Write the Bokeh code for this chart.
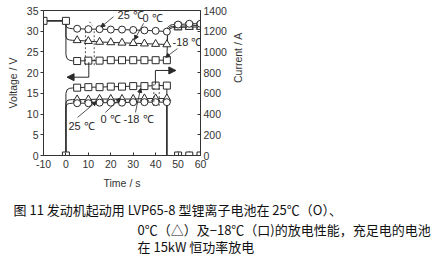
import math
from bokeh.plotting import figure
from bokeh.models import (Range1d, LinearAxis, FixedTicker, Label, Arrow,
                          NormalHead, Title)
from bokeh.embed import file_html
from bokeh.resources import INLINE

# ---- data -------------------------------------------------------------
# idle period before cranking
t_pre = [-10, 0]
v_pre = [32.5, 32.5]
i_pre_t = [0]
i_pre = [0]

# sampled points during the 15 kW discharge and after it
t_run = [5, 10, 15, 20, 25, 30, 35, 40, 45]
t_rest = [50, 55, 60]

# voltage (V) at 25 °C, 0 °C, -18 °C
v_25 = [30.6, 30.5, 30.5, 30.4, 30.4, 30.3, 30.2, 30.1, 29.9]
v_0 = [27.8, 27.6, 27.4, 27.3, 27.2, 27.1, 27.0, 26.9, 26.8]
v_m18 = [22.8, 22.9, 22.9, 23.0, 23.0, 23.0, 23.0, 23.0, 23.0]
vr_25 = [31.6, 31.8, 31.8]
vr_0 = [30.9, 31.0, 31.0]
vr_m18 = [31.2, 31.3, 31.4]

# voltage knee right after cranking starts, and recovery knee after stop
knee_t = [0, 0, 0.5, 1.5, 3]
vk_25 = [32.5, 31.4, 30.9, 30.7, 30.6]
vk_0 = [32.5, 28.8, 28.1, 27.9, 27.8]
vk_m18 = [32.5, 24.3, 23.4, 23.0, 22.85]
rec_t = [45, 45.4, 46.3, 47.5]
vrk_25 = [29.9, 30.9, 31.4, 31.6]
vrk_0 = [26.8, 29.8, 30.6, 30.85]
vrk_m18 = [23.0, 30.2, 31.0, 31.15]

# current (A)
i_25 = [505, 505, 510, 510, 510, 515, 515, 515, 515]
i_0 = [540, 540, 545, 545, 545, 545, 550, 550, 550]
i_m18 = [655, 660, 660, 665, 665, 670, 670, 675, 675]
i_rest = [0, 0, 0]
ik_25 = [0, 470, 495, 502, 505]
ik_0 = [0, 505, 530, 537, 540]
ik_m18 = [0, 600, 635, 648, 652]

x_ticks = [-10, 0, 10, 20, 30, 40, 50, 60]
v_ticks = [0, 5, 10, 15, 20, 25, 30, 35]
i_ticks = [0, 200, 400, 600, 800, 1000, 1200, 1400]

caption_head = "图 11 发动机起动用 LVP65-8 型锂离子电池在 25℃（O）、"
caption_rest = ["0℃（△）及−18℃（口)的放电性能，充足电的电池",
                "在 15kW 恒功率放电"]

INK = "#2a2a2a"
AXIS = "#333333"
FONT = "Liberation Sans"
CJK = "Noto Sans CJK SC"

p = figure(width=439, height=257, output_backend="svg", toolbar_location=None,
           x_range=Range1d(-10, 60), y_range=Range1d(0, 35),
           min_border_left=43, min_border_right=239,
           min_border_top=10, min_border_bottom=102)
p.extra_y_ranges = {"current": Range1d(0, 1400)}
p.grid.visible = False
p.outline_line_color = AXIS
p.outline_line_width = 1
p.background_fill_color = "white"
p.border_fill_color = "white"

# axes
p.xaxis.ticker = FixedTicker(ticks=x_ticks)
p.xaxis.major_label_overrides = {-10: "-10"}
p.xaxis.major_tick_in = 3
p.xaxis.major_tick_out = 0
p.xaxis.major_label_standoff = 4
p.xaxis.axis_label = "Time / s"
p.xaxis.axis_label_standoff = 6
p.yaxis.ticker = FixedTicker(ticks=v_ticks)
p.yaxis.major_tick_in = 0
p.yaxis.major_tick_out = 3
p.yaxis.major_label_standoff = 2
p.yaxis.axis_label = "Voltage / V"
p.yaxis.axis_label_standoff = 5

ax_r = LinearAxis(y_range_name="current", ticker=FixedTicker(ticks=i_ticks))
ax_r.major_tick_in = 3
ax_r.major_tick_out = 0
ax_r.major_label_standoff = 3
ax_r.axis_label = "Current / A"
ax_r.axis_label_standoff = 8
ax_r.axis_label_orientation = math.pi / 2
p.add_layout(ax_r, "right")

for ax in (p.xaxis[0], p.yaxis[0], ax_r):
    ax.axis_line_color = AXIS
    ax.major_tick_line_color = AXIS
    ax.minor_tick_line_color = None
    ax.major_label_text_font = FONT
    ax.major_label_text_font_size = "10.5px"
    ax.major_label_text_color = "#333333"
    ax.axis_label_text_font = FONT
    ax.axis_label_text_font_size = "10.5px"
    ax.axis_label_text_font_style = "normal"
    ax.axis_label_text_color = "#333333"

# ---- voltage curves ---------------------------------------------------
curves_v = [
    (vk_25, v_25, vrk_25, vr_25),
    (vk_0, v_0, vrk_0, vr_0),
    (vk_m18, v_m18, vrk_m18, vr_m18),
]
for vk, v, vrk, vr in curves_v:
    xs = t_pre + knee_t + t_run + rec_t[1:] + t_rest
    ys = v_pre + vk + v + vrk[1:] + vr
    p.line(xs, ys, line_color=INK, line_width=1)

# ---- current curves ---------------------------------------------------
curves_i = [(ik_25, i_25), (ik_0, i_0), (ik_m18, i_m18)]
for ik, cur in curves_i:
    xs = [-10] + knee_t + t_run + [t_run[-1]] + t_rest
    ys = [0] + ik + cur + [0] + i_rest
    p.line(xs, ys, line_color=INK, line_width=1, y_range_name="current")

# ---- markers ----------------------------------------------------------
mk = dict(fill_color="white", line_color=INK, line_width=1)
p.scatter(t_pre, v_pre, marker="square", size=7, **mk)
p.scatter(i_pre_t, i_pre, marker="square", size=7, y_range_name="current", **mk)

p.scatter(t_run, v_m18, marker="square", size=7, **mk)
p.scatter(t_rest, vr_m18, marker="square", size=7, **mk)
p.scatter(t_run, v_0, marker="triangle", size=8, **mk)
p.scatter(t_rest, vr_0, marker="triangle", size=8, **mk)
p.scatter(t_run, v_25, marker="circle", size=7, **mk)
p.scatter(t_rest, vr_25, marker="circle", size=7, **mk)

p.scatter(t_run, i_m18, marker="square", size=7, y_range_name="current", **mk)
p.scatter(t_run, i_0, marker="triangle", size=8, y_range_name="current", **mk)
p.scatter(t_run, i_25, marker="circle", size=7, y_range_name="current", **mk)
p.scatter(t_rest, i_rest, marker="circle", size=7, y_range_name="current", **mk)
p.scatter(t_rest, i_rest, marker="square", size=7, y_range_name="current", **mk)

# ---- axis-pointing brackets -------------------------------------------
dash = dict(line_color=INK, line_width=0.8, line_dash="2 2")
p.segment([8.7, 12.6], [30.0, 30.0], [8.7, 12.6], [21.5, 21.5], **dash)
p.line([10.5, 11.8], [32.3, 31.4], **dash)
p.line([10.2, 10.2], [22.5, 18.9], line_color=INK, line_width=1)
p.add_layout(Arrow(x_start=10.2, y_start=18.9, x_end=0.5, y_end=18.9,
                   line_color=INK, line_width=1,
                   end=NormalHead(size=7, fill_color=INK, line_color=INK)))

p.segment([39.2, 41.6], [690, 690], [39.2, 41.6], [480, 480],
          y_range_name="current", **dash)
p.line([39.9, 39.9], [686, 821], line_color=INK, line_width=1,
       y_range_name="current")
p.add_layout(Arrow(x_start=39.9, y_start=821, x_end=49.0, y_end=821,
                   y_range_name="current", line_color=INK, line_width=1,
                   end=NormalHead(size=7, fill_color=INK, line_color=INK)))

# ---- temperature call-outs --------------------------------------------
def callout(text, tx, ty, x0, y0, x1, y1):
    p.add_layout(Label(x=tx, y=ty, text=text, text_font=FONT,
                       text_font_size="11px", text_color=INK,
                       text_baseline="middle", text_align="left"))
    p.add_layout(Arrow(x_start=x0, y_start=y0, x_end=x1, y_end=y1,
                       line_color=INK, line_width=0.8,
                       end=NormalHead(size=4, fill_color=INK, line_color=INK)))

callout("25 ℃", 23.0, 33.8, 21.2, 33.5, 15.6, 31.0)
callout("0 ℃", 34.1, 33.2, 34.6, 31.9, 30.6, 28.0)
callout("-18 ℃", 47.5, 27.3, 49.7, 25.8, 44.5, 23.7)
callout("25 ℃", 1.1, 7.2, 5.2, 9.2, 13.6, 13.0)
callout("0 ℃", 15.4, 8.9, 17.6, 10.4, 24.3, 13.8)
callout("-18 ℃", 25.7, 8.9, 31.0, 10.4, 33.3, 16.2)

# ---- figure caption, stacked under the time axis ----------------------
# a blank strip first, to leave a gap below the axis title
p.add_layout(Title(text=" ", text_font_size="1px", standoff=3), "below")
p.add_layout(Title(text=caption_head, align="left", offset=-30, standoff=0,
                   text_font=CJK, text_font_size="13px",
                   text_font_style="normal", text_color="#111111"), "below")
p.add_layout(Title(text="\n".join(caption_rest), align="left", offset=94,
                   standoff=0, text_line_height=0.9,
                   text_font=CJK, text_font_size="13px",
                   text_font_style="normal", text_color="#111111"), "below")

open("out.html", "w").write(file_html(p, INLINE))
